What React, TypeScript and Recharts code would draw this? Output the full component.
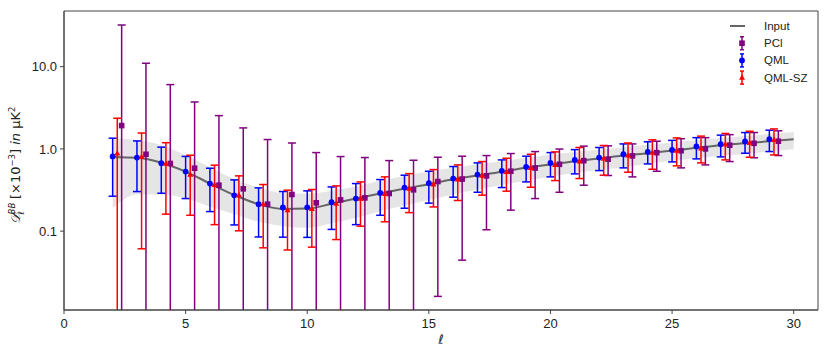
import React from 'react';
import {
  ComposedChart, Area, Line, Scatter, ErrorBar, XAxis, YAxis,
  ReferenceArea, Legend, Label,
} from 'recharts';

// multipoles of the binned estimates
const ells = [2, 3, 4, 5, 6, 7, 8, 9, 10, 11, 12, 13, 14, 15, 16, 17, 18, 19, 20, 21, 22, 23, 24, 25, 26, 27, 28, 29];

// input spectrum and its shaded band
const inputEll = [2, 3, 4, 5, 6, 7, 8, 9, 10, 11, 12, 13, 14, 15, 16, 17, 18, 19, 20, 21, 22, 23, 24, 25, 26, 27, 28, 29, 30];
const inputVal = [0.8, 0.78, 0.68, 0.53, 0.38, 0.275, 0.213, 0.186, 0.188, 0.215, 0.249, 0.287, 0.33, 0.372, 0.428, 0.474, 0.526, 0.595, 0.645, 0.708, 0.763, 0.83, 0.886, 0.954, 1.03, 1.11, 1.17, 1.24, 1.31];
const bandLo = [0.19, 0.28, 0.28, 0.25, 0.2, 0.16, 0.13, 0.115, 0.11, 0.125, 0.145, 0.175, 0.205, 0.24, 0.28, 0.32, 0.365, 0.41, 0.46, 0.51, 0.55, 0.6, 0.66, 0.72, 0.77, 0.82, 0.87, 0.93, 0.99];
const bandHi = [1.35, 1.29, 1.11, 0.84, 0.6, 0.43, 0.34, 0.29, 0.285, 0.31, 0.35, 0.41, 0.47, 0.53, 0.59, 0.65, 0.71, 0.78, 0.85, 0.92, 0.98, 1.05, 1.12, 1.2, 1.28, 1.36, 1.44, 1.52, 1.61];

// lower ends that run past the bottom of the plot
const OFF = 0.001;

const pclVal = [1.92, 0.861, 0.665, 0.582, 0.362, 0.327, 0.213, 0.279, 0.221, 0.24, 0.254, 0.287, 0.318, 0.401, 0.43, 0.47, 0.535, 0.585, 0.65, 0.72, 0.749, 0.822, 0.9, 0.95, 1.0, 1.11, 1.17, 1.24];
const pclLo = [OFF, OFF, OFF, OFF, OFF, OFF, OFF, OFF, OFF, OFF, OFF, OFF, OFF, 0.0161, 0.0444, 0.104, 0.18, 0.249, 0.297, 0.362, 0.475, 0.457, 0.535, 0.588, 0.639, 0.702, 0.78, 0.83];
const pclHi = [32.1, 11.0, 6.05, 3.72, 2.54, 1.8, 1.3, 1.18, 0.902, 0.807, 0.785, 0.721, 0.728, 0.792, 0.815, 0.83, 0.878, 0.928, 0.996, 1.08, 1.09, 1.15, 1.24, 1.33, 1.37, 1.49, 1.58, 1.66];

const qmlVal = [0.81, 0.785, 0.67, 0.53, 0.379, 0.273, 0.213, 0.194, 0.195, 0.225, 0.249, 0.292, 0.339, 0.383, 0.436, 0.488, 0.541, 0.604, 0.676, 0.735, 0.785, 0.861, 0.92, 0.972, 1.07, 1.14, 1.23, 1.31];
const qmlLo = [0.266, 0.303, 0.289, 0.249, 0.173, 0.119, 0.085, 0.0845, 0.084, 0.105, 0.12, 0.156, 0.19, 0.219, 0.259, 0.297, 0.339, 0.397, 0.457, 0.497, 0.545, 0.588, 0.657, 0.695, 0.756, 0.8, 0.886, 0.928];
const qmlHi = [1.35, 1.25, 1.05, 0.81, 0.582, 0.42, 0.336, 0.303, 0.309, 0.345, 0.379, 0.424, 0.479, 0.535, 0.61, 0.676, 0.735, 0.815, 0.902, 0.98, 1.04, 1.15, 1.22, 1.27, 1.37, 1.47, 1.58, 1.69];

const szVal = [0.886, 0.8, 0.665, 0.488, 0.365, 0.275, 0.213, 0.181, 0.187, 0.217, 0.249, 0.285, 0.33, 0.372, 0.428, 0.474, 0.526, 0.588, 0.639, 0.708, 0.763, 0.838, 0.902, 0.954, 1.02, 1.14, 1.19, 1.29];
const szLo = [OFF, 0.061, 0.161, 0.156, 0.12, 0.101, 0.0627, 0.059, 0.0639, 0.079, 0.115, 0.13, 0.168, 0.197, 0.236, 0.274, 0.306, 0.342, 0.412, 0.436, 0.479, 0.521, 0.566, 0.622, 0.676, 0.735, 0.792, 0.845];
const szHi = [2.36, 1.56, 1.19, 0.838, 0.634, 0.47, 0.369, 0.315, 0.321, 0.355, 0.397, 0.457, 0.501, 0.561, 0.639, 0.702, 0.77, 0.861, 0.92, 1.04, 1.1, 1.18, 1.29, 1.36, 1.43, 1.54, 1.64, 1.75];

const xTicks = [0, 5, 10, 15, 20, 25, 30];
const yTicks = [0.1, 1, 10];
const yMinor = [0.02, 0.03, 0.04, 0.05, 0.06, 0.07, 0.08, 0.09, 0.2, 0.3, 0.4, 0.5, 0.6, 0.7, 0.8, 0.9, 2, 3, 4, 5, 6, 7, 8, 9, 20, 30, 40];
const Y_DOMAIN = [0.011, 47.5];

const PURPLE = '#800080';
const BLUE = '#0000ff';
const RED = '#ff0000';
const GREY = '#666666';
const AXIS = '#444444';
const FONT = '"Liberation Sans", Arial, sans-serif';

const W = 830;
const H = 353;
const M = { top: 11, right: 12, bottom: 0, left: 14 };
const Y_W = 50;
const X_H = 43;

const inputData = inputEll.map((x, i) => ({ x, y: inputVal[i], band: [bandLo[i], bandHi[i]] }));

const toPoints = (vals: number[], lo: number[], hi: number[], shift: number) =>
  ells.map((l, i) => ({ x: l + shift, y: vals[i], err: [vals[i] - lo[i], hi[i] - vals[i]] }));

const pclData = toPoints(pclVal, pclLo, pclHi, 0.37);
const qmlData = toPoints(qmlVal, qmlLo, qmlHi, 0);
const szData = toPoints(szVal, szLo, szHi, 0.19);

const Square = (p: any) => <rect x={p.cx - 2.8} y={p.cy - 2.8} width={5.6} height={5.6} fill={PURPLE} />;
const Dot = (p: any) => <circle cx={p.cx} cy={p.cy} r={2.9} fill={BLUE} />;
const Tri = (p: any) => (
  <polygon points={`${p.cx},${p.cy - 3.3} ${p.cx + 3},${p.cy + 2.2} ${p.cx - 3},${p.cy + 2.2}`} fill={RED} />
);

const legendItems = [
  { name: 'Input', kind: 'line', color: GREY },
  { name: 'PCl', kind: 'square', color: PURPLE },
  { name: 'QML', kind: 'circle', color: BLUE },
  { name: 'QML-SZ', kind: 'triangle', color: RED },
];

const LegendBox = () => (
  <svg width={100} height={76}>
    {legendItems.map((it, i) => {
      const y = 12 + i * 17.2;
      const mx = 20;
      return (
        <g key={it.name}>
          {it.kind === 'line' ? (
            <line x1={8} x2={23} y1={y} y2={y} stroke={it.color} strokeWidth={2} />
          ) : (
            <g stroke={it.color} strokeWidth={1.5}>
              <line x1={mx} x2={mx} y1={y - 6.5} y2={y + 6.5} />
              <line x1={mx - 2} x2={mx + 2} y1={y - 6.5} y2={y - 6.5} />
              <line x1={mx - 2} x2={mx + 2} y1={y + 6.5} y2={y + 6.5} />
            </g>
          )}
          {it.kind === 'square' && <Square cx={mx} cy={y} />}
          {it.kind === 'circle' && <Dot cx={mx} cy={y} />}
          {it.kind === 'triangle' && <Tri cx={mx} cy={y} />}
          <text x={42} y={y + 4} fontSize={11.5} fontFamily={FONT} fill="#222">{it.name}</text>
        </g>
      );
    })}
  </svg>
);

const YTitle = (props: any) => {
  const vb = props.viewBox;
  const cx = 20;
  const cy = vb.y + vb.height / 2 + 5;
  return (
    <text
      transform={`rotate(-90, ${cx}, ${cy})`}
      x={cx}
      y={cy}
      textAnchor="middle"
      fontSize={13}
      fontFamily="DejaVu Sans, sans-serif"
      fill="#222"
    >
      <tspan fontStyle="italic">𝒟</tspan>
      <tspan fontSize={8.5} dy={-5} fontStyle="italic">BB</tspan>
      <tspan fontSize={8.5} dx={-12} dy={9} fontStyle="italic">ℓ</tspan>
      <tspan dx={8} dy={-4}> [×10</tspan>
      <tspan fontSize={8.5} dy={-5}>−3</tspan>
      <tspan dy={5}>] </tspan>
      <tspan fontStyle="italic">in</tspan>
      <tspan> μK</tspan>
      <tspan fontSize={8.5} dy={-5}>2</tspan>
    </text>
  );
};

const XTitle = (props: any) => {
  const vb = props.viewBox;
  return (
    <text x={vb.x + vb.width / 2} y={vb.y + 34} textAnchor="middle" fontSize={13} fontStyle="italic"
      fontFamily="DejaVu Sans, sans-serif" fill="#222">ℓ</text>
  );
};

// error bars must not spill outside the axes frame
const plotX = M.left + Y_W;
const plotY = M.top;
const plotW = W - M.right - plotX;
const plotH = H - M.bottom - X_H - plotY;

export default function App() {
  return (
    <div style={{ position: 'absolute', left: 0, top: 0, width: W, height: H, background: '#fff' }}>
      <style>{`.recharts-errorBars, .recharts-errorBar { clip-path: url(#plotClip); }`}</style>
      <svg width={0} height={0} style={{ position: 'absolute' }}>
        <defs>
          <clipPath id="plotClip" clipPathUnits="userSpaceOnUse">
            <rect x={plotX} y={plotY} width={plotW} height={plotH} />
          </clipPath>
        </defs>
      </svg>
      <ComposedChart width={W} height={H} data={inputData} margin={M}>
        <XAxis
          dataKey="x"
          type="number"
          domain={[0, 31]}
          ticks={xTicks}
          interval={0}
          allowDataOverflow
          height={X_H}
          tickSize={4}
          tickMargin={5}
          stroke={AXIS}
          tick={{ fill: '#222', fontSize: 13, fontFamily: FONT }}
        >
          <Label content={<XTitle />} />
        </XAxis>
        <YAxis
          yAxisId="minor"
          dataKey="y"
          type="number"
          scale="log"
          domain={Y_DOMAIN}
          allowDataOverflow
          ticks={yMinor}
          interval={0}
          tick={false}
          tickSize={2}
          axisLine={false}
          stroke={AXIS}
          width={0}
        />
        <YAxis
          yAxisId="main"
          dataKey="y"
          type="number"
          scale="log"
          domain={Y_DOMAIN}
          allowDataOverflow
          ticks={yTicks}
          interval={0}
          tickFormatter={(v: number) => v.toFixed(1)}
          tickSize={4}
          tickMargin={3}
          stroke={AXIS}
          width={Y_W}
          tick={{ fill: '#222', fontSize: 13, fontFamily: FONT }}
        >
          <Label content={<YTitle />} />
        </YAxis>
        <Area
          yAxisId="main"
          type="monotone"
          dataKey="band"
          stroke="none"
          fill="#000"
          fillOpacity={0.1}
          isAnimationActive={false}
        />
        <Line
          yAxisId="main"
          type="monotone"
          dataKey="y"
          stroke={GREY}
          strokeWidth={2}
          dot={false}
          isAnimationActive={false}
        />
        <Scatter yAxisId="main" data={pclData} shape={Square} isAnimationActive={false}>
          <ErrorBar dataKey="err" direction="y" width={4} stroke={PURPLE} strokeWidth={1.5} isAnimationActive={false} />
        </Scatter>
        <Scatter yAxisId="main" data={qmlData} shape={Dot} isAnimationActive={false}>
          <ErrorBar dataKey="err" direction="y" width={4} stroke={BLUE} strokeWidth={1.5} isAnimationActive={false} />
        </Scatter>
        <Scatter yAxisId="main" data={szData} shape={Tri} isAnimationActive={false}>
          <ErrorBar dataKey="err" direction="y" width={4} stroke={RED} strokeWidth={1.5} isAnimationActive={false} />
        </Scatter>
        <ReferenceArea yAxisId="main" x1={0} x2={31} y1={Y_DOMAIN[0]} y2={Y_DOMAIN[1]} fill="none" stroke={AXIS} strokeWidth={1} ifOverflow="visible" />
        <Legend
          layout="vertical"
          align="center"
          verticalAlign="middle"
          content={<LegendBox />}
          wrapperStyle={{ position: 'absolute', left: 722, top: 14, width: 100, height: 76 }}
        />
      </ComposedChart>
    </div>
  );
}
